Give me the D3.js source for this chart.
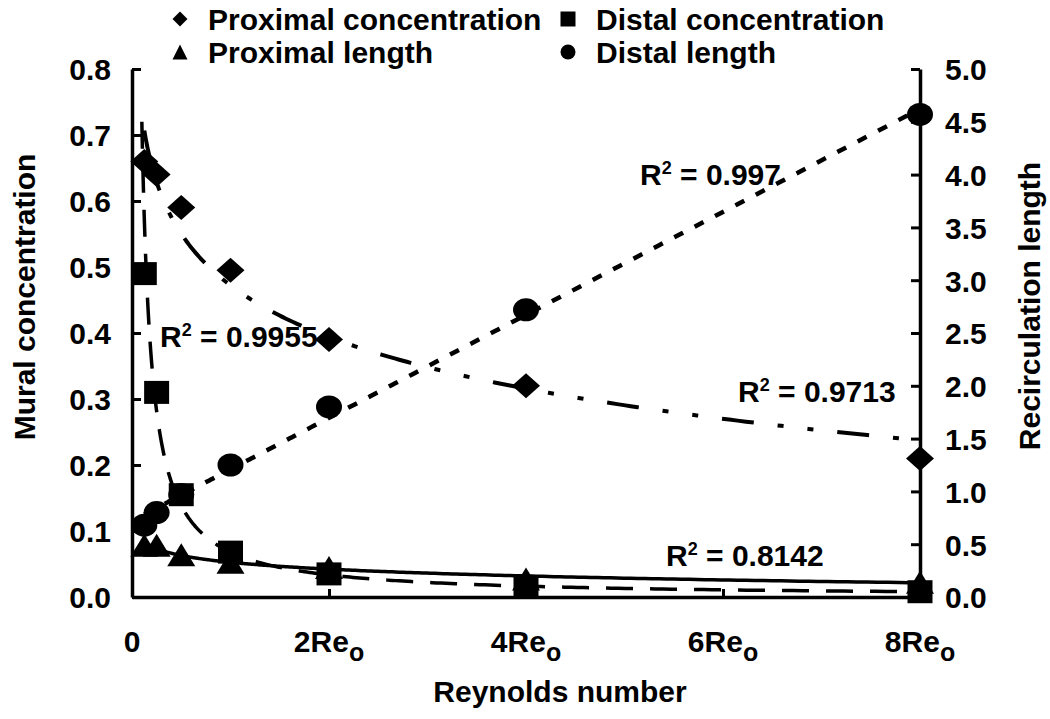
<!DOCTYPE html>
<html>
<head>
<meta charset="utf-8">
<script src="https://cdn.jsdelivr.net/npm/d3@7"></script>
<style>
  html, body { margin: 0; padding: 0; background: #fff; }
  svg { display: block; }
  text { font-family: "Liberation Sans", Arial, sans-serif; font-weight: bold; fill: #000; }
</style>
</head>
<body>
<svg id="chart" width="1050" height="719"></svg>
<script>
// ---------- data ----------
const xValues = [0.125, 0.25, 0.5, 1, 2, 4, 8];          // multiples of Re_o
const proximalConcentration = [0.66, 0.64, 0.59, 0.495, 0.39, 0.32, 0.21];   // left axis
const distalConcentration   = [0.49, 0.31, 0.155, 0.068, 0.035, 0.015, 0.008]; // left axis
const proximalLength        = [0.49, 0.49, 0.40, 0.33, 0.28, 0.17, 0.14];     // right axis
const distalLength          = [0.68, 0.80, 0.97, 1.25, 1.80, 2.72, 4.57];     // right axis

const leftTicks  = [0, 0.1, 0.2, 0.3, 0.4, 0.5, 0.6, 0.7, 0.8];
const rightTicks = [0, 0.5, 1, 1.5, 2, 2.5, 3, 3.5, 4, 4.5, 5];
const xTicks = [0, 2, 4, 6, 8];
const xTickLabels = ["0", "2Re", "4Re", "6Re", "8Re"];
const xTickSubs   = ["", "o", "o", "o", "o"];
const legendLabels = ["Proximal concentration", "Distal concentration", "Proximal length", "Distal length"];
const rSquared = ["0.9955", "0.997", "0.9713", "0.8142"];

// ---------- layout ----------
const svg = d3.select("#chart");
const X0 = 132, X1 = 920, Y0 = 597, Y1 = 69;
const x  = d3.scaleLinear().domain([0, 8]).range([X0, X1]);
const yL = d3.scaleLinear().domain([0, 0.8]).range([Y0, Y1]);
const yR = d3.scaleLinear().domain([0, 5]).range([Y0, Y1]);

// ---------- regressions (same types as the Excel trendlines) ----------
function fit(xs, ys, type) {
  const tx = type === "linear" ? xs : xs.map(Math.log);
  const ty = type === "power" ? ys.map(Math.log) : ys;
  const n = xs.length;
  const mx = d3.mean(tx), my = d3.mean(ty);
  let sxy = 0, sxx = 0;
  for (let i = 0; i < n; i++) { sxy += (tx[i]-mx)*(ty[i]-my); sxx += (tx[i]-mx)*(tx[i]-mx); }
  const b = sxy / sxx, a = my - b * mx;
  if (type === "linear") return v => a + b * v;
  if (type === "log") return v => a + b * Math.log(v);
  return v => Math.exp(a) * Math.pow(v, b);
}
function curve(f, from, to) {
  const pts = [];
  const n = 300;
  for (let i = 0; i <= n; i++) {
    const v = Math.exp(Math.log(from) + (Math.log(to) - Math.log(from)) * i / n);
    pts.push([v, f(v)]);
  }
  return pts;
}

// ---------- marker shapes ----------
function shape(kind, w, h) {
  const a = w / 2, b = h / 2;
  if (kind === "diamond") return `M0,${-b}L${a},0L0,${b}L${-a},0Z`;
  if (kind === "square")  return `M${-a},${-b}H${a}V${b}H${-a}Z`;
  if (kind === "triangle") return `M0,${-b}L${a},${b}H${-a}Z`;
  return `M${-a},0A${a},${b} 0 1,0 ${a},0A${a},${b} 0 1,0 ${-a},0Z`;
}

// ---------- trendlines ----------
const trends = [
  { xs: xValues, ys: proximalConcentration, type: "log",    y: yL, from: 0.125, dash: "32,24,6,24,6,24", w: 4 },
  { xs: xValues, ys: distalConcentration,   type: "power",  y: yL, from: 0.1,   dash: "27,17", w: 3.5 },
  { xs: xValues, ys: proximalLength,        type: "log",    y: yR, from: 0.125, dash: null, w: 3.5 },
  { xs: xValues, ys: distalLength,          type: "linear", y: yR, from: 0.125, dash: "10,13", w: 4.5 },
];
trends.forEach(t => {
  const f = fit(t.xs, t.ys, t.type);
  const line = d3.line().x(d => x(d[0])).y(d => t.y(d[1]));
  svg.append("path")
    .attr("d", line(curve(f, t.from, 8)))
    .attr("fill", "none").attr("stroke", "#000")
    .attr("stroke-width", t.w)
    .attr("stroke-dasharray", t.dash);
});

// ---------- markers ----------
const series = [
  { ys: distalLength,          y: yR, kind: "circle",   w: 26, h: 23 },
  { ys: proximalLength,        y: yR, kind: "triangle", w: 28, h: 23 },
  { ys: distalConcentration,   y: yL, kind: "square",   w: 25, h: 23 },
  { ys: proximalConcentration, y: yL, kind: "diamond",  w: 28, h: 25 },
];
series.forEach(s => {
  svg.append("g").selectAll("path").data(s.ys).join("path")
    .attr("transform", (d, i) => `translate(${x(xValues[i])},${s.y(d)})`)
    .attr("d", shape(s.kind, s.w, s.h))
    .attr("fill", "#000");
});

// ---------- axes ----------
const fmt = d3.format(".1f");
const gL = svg.append("g").attr("transform", `translate(${X0},0)`)
  .call(d3.axisLeft(yL).tickValues(leftTicks).tickFormat(fmt).tickSize(-9).tickSizeOuter(0).tickPadding(21));
const gR = svg.append("g").attr("transform", `translate(${X1},0)`)
  .call(d3.axisRight(yR).tickValues(rightTicks).tickFormat(fmt).tickSize(-9).tickSizeOuter(0).tickPadding(25));
const gB = svg.append("g").attr("transform", `translate(0,${Y0})`)
  .call(d3.axisBottom(x).tickValues(xTicks).tickFormat("").tickSize(-8).tickSizeOuter(0));
[gL, gR, gB].forEach(g => {
  g.select(".domain").attr("stroke", "#000").attr("stroke-width", 3.5);
  g.selectAll(".tick line").attr("stroke", "#000").attr("stroke-width", 3);
  g.selectAll(".tick text").attr("font-size", 30).attr("font-family", null).attr("fill", "#000").attr("dy", "0.36em");
});

// x tick labels with subscript o
const xl = svg.append("g").selectAll("text").data(xTicks).join("text")
  .attr("x", d => x(d)).attr("y", 652).attr("text-anchor", "middle").attr("font-size", 30);
xl.append("tspan").text((d, i) => xTickLabels[i]);
xl.append("tspan").attr("dy", 9).attr("font-size", 25).text((d, i) => xTickSubs[i]);

// axis titles
svg.append("text").attr("x", 560).attr("y", 702).attr("text-anchor", "middle")
  .attr("font-size", 30).text("Reynolds number");
svg.append("text").attr("transform", "translate(35,297) rotate(-90)").attr("text-anchor", "middle")
  .attr("font-size", 30).text("Mural concentration");
svg.append("text").attr("transform", "translate(1040,306) rotate(-90)").attr("text-anchor", "middle")
  .attr("font-size", 30).text("Recirculation length");

// ---------- R² labels ----------
const rPos = [[160, 347], [640, 185], [738, 402], [666, 566]];
rSquared.forEach((r, i) => {
  const t = svg.append("text").attr("x", rPos[i][0]).attr("y", rPos[i][1]).attr("font-size", 30);
  t.append("tspan").text("R");
  t.append("tspan").attr("dy", -11).attr("font-size", 18).text("2");
  t.append("tspan").attr("dy", 11).text(" = " + r);
});

// ---------- legend ----------
const legendKinds = ["diamond", "square", "triangle", "circle"];
const legendPos = [[180, 19], [568, 19], [180, 52], [568, 52]];
legendLabels.forEach((lab, i) => {
  const [lx, ly] = legendPos[i];
  svg.append("path").attr("transform", `translate(${lx},${ly})`)
    .attr("d", shape(legendKinds[i], 15, 15)).attr("fill", "#000");
  svg.append("text").attr("x", lx + 28).attr("y", ly + 11).attr("font-size", 30).text(lab);
});
</script>
</body>
</html>
